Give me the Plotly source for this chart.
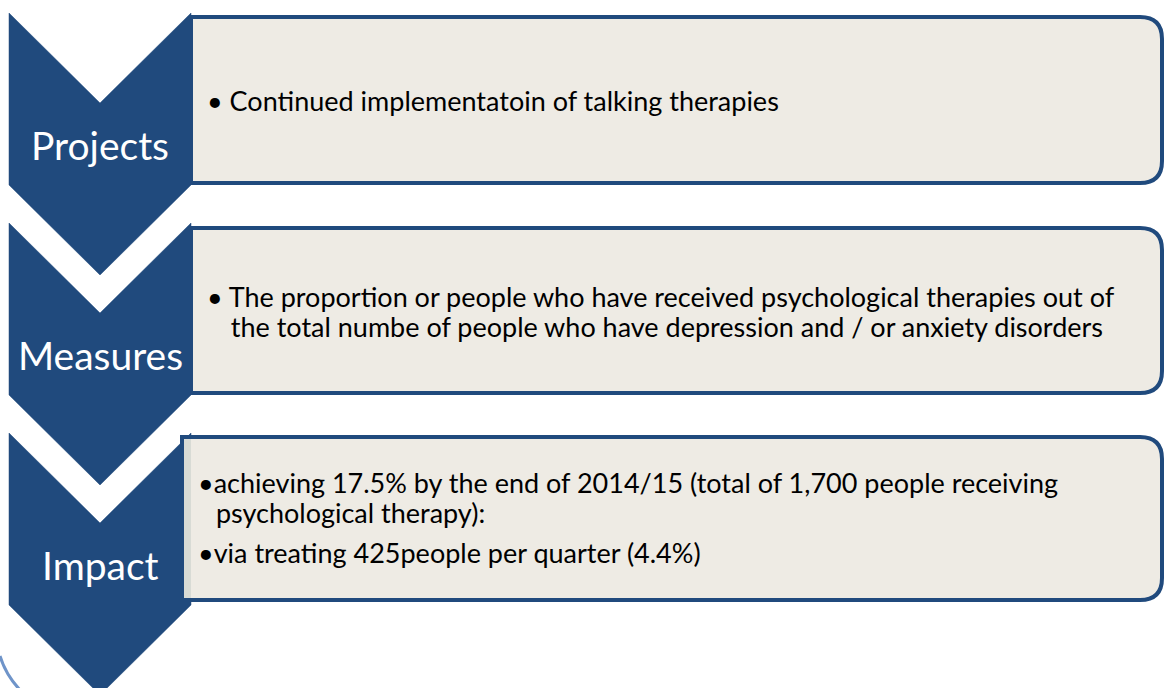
import plotly.graph_objects as go

# ---- content ----
stage_labels = ["Projects", "Measures", "Impact"]
stage_text = [
    ["• Continued implementatoin of talking therapies"],
    ["• The proportion or people who have received psychological therapies out of",
     "  the total numbe of people who have depression and / or anxiety disorders"],
    ["•achieving 17.5% by the end of 2014/15 (total of 1,700 people receiving",
     " psychological therapy):",
     "•via treating 425people per quarter (4.4%)"],
]

# ---- layout geometry (pixels) ----
W, H = 1164, 688
BLUE = "#204a7d"
FILL = "#eeebe4"
chev_x0, chev_x1, chev_mid = 9, 191, 100
chev_top = [13, 223, 433]
depth, body = 90, 172
box_top = [17, 228, 437]
box_bot = [183, 393, 600]
box_left = [191, 191, 182]
box_right = 1162
radius = 22
text_x = [[205], [205, 215], [196, 207, 196]]
text_y = [[100], [296, 326], [482, 512, 552]]
label_y = [145, 355, 565]

fig = go.Figure()
shapes = []


def rbox(x0, y0, x1, y1, r):
    return (f"M {x0},{y0} L {x1-r},{y0} Q {x1},{y0} {x1},{y0+r} "
            f"L {x1},{y1-r} Q {x1},{y1} {x1-r},{y1} L {x0},{y1} Z")


def chevron(t):
    return (f"M {chev_x0},{t} L {chev_mid},{t+depth} L {chev_x1},{t} "
            f"L {chev_x1},{t+body} L {chev_mid},{t+body+depth} L {chev_x0},{t+body} Z")


for i in range(3):
    box = dict(type="path", path=rbox(box_left[i], box_top[i], box_right, box_bot[i], radius),
               fillcolor=FILL, line=dict(color=BLUE, width=4), layer="above")
    chev = dict(type="path", path=chevron(chev_top[i]), fillcolor=BLUE,
                line=dict(color=BLUE, width=0.5), layer="above")
    if i < 2:
        shapes += [box, chev]
    else:
        shapes += [chev, box,
                   dict(type="rect", x0=box_left[i] + 2, x1=191, y0=box_top[i] + 2,
                        y1=box_bot[i] - 2, fillcolor="#d8dbd5", line=dict(width=0),
                        layer="above")]

# faint arc bottom-left
shapes.append(dict(type="path", path="M 0,656 Q 6,676 22,692",
                   line=dict(color="#6f94c9", width=3), layer="above"))

annotations = []
for i, lab in enumerate(stage_labels):
    annotations.append(dict(x=chev_mid, y=label_y[i], text=lab, showarrow=False,
                            xanchor="center", yanchor="middle",
                            font=dict(family="Lato", size=39, color="white")))
    for line, x, y in zip(stage_text[i], text_x[i], text_y[i]):
        annotations.append(dict(x=x, y=y, text=line, showarrow=False,
                                xanchor="left", yanchor="middle",
                                font=dict(family="Lato", size=27, color="black")))

fig.update_layout(
    width=W, height=H, margin=dict(l=0, r=0, t=0, b=0),
    paper_bgcolor="white", plot_bgcolor="white",
    xaxis=dict(range=[0, W], visible=False, fixedrange=True),
    yaxis=dict(range=[H, 0], visible=False, fixedrange=True),
    shapes=shapes, annotations=annotations, showlegend=False,
)
fig.write_html("out.html", config={"displayModeBar": False},
               post_script="document.body.style.margin='0';document.body.style.overflow='hidden';")
